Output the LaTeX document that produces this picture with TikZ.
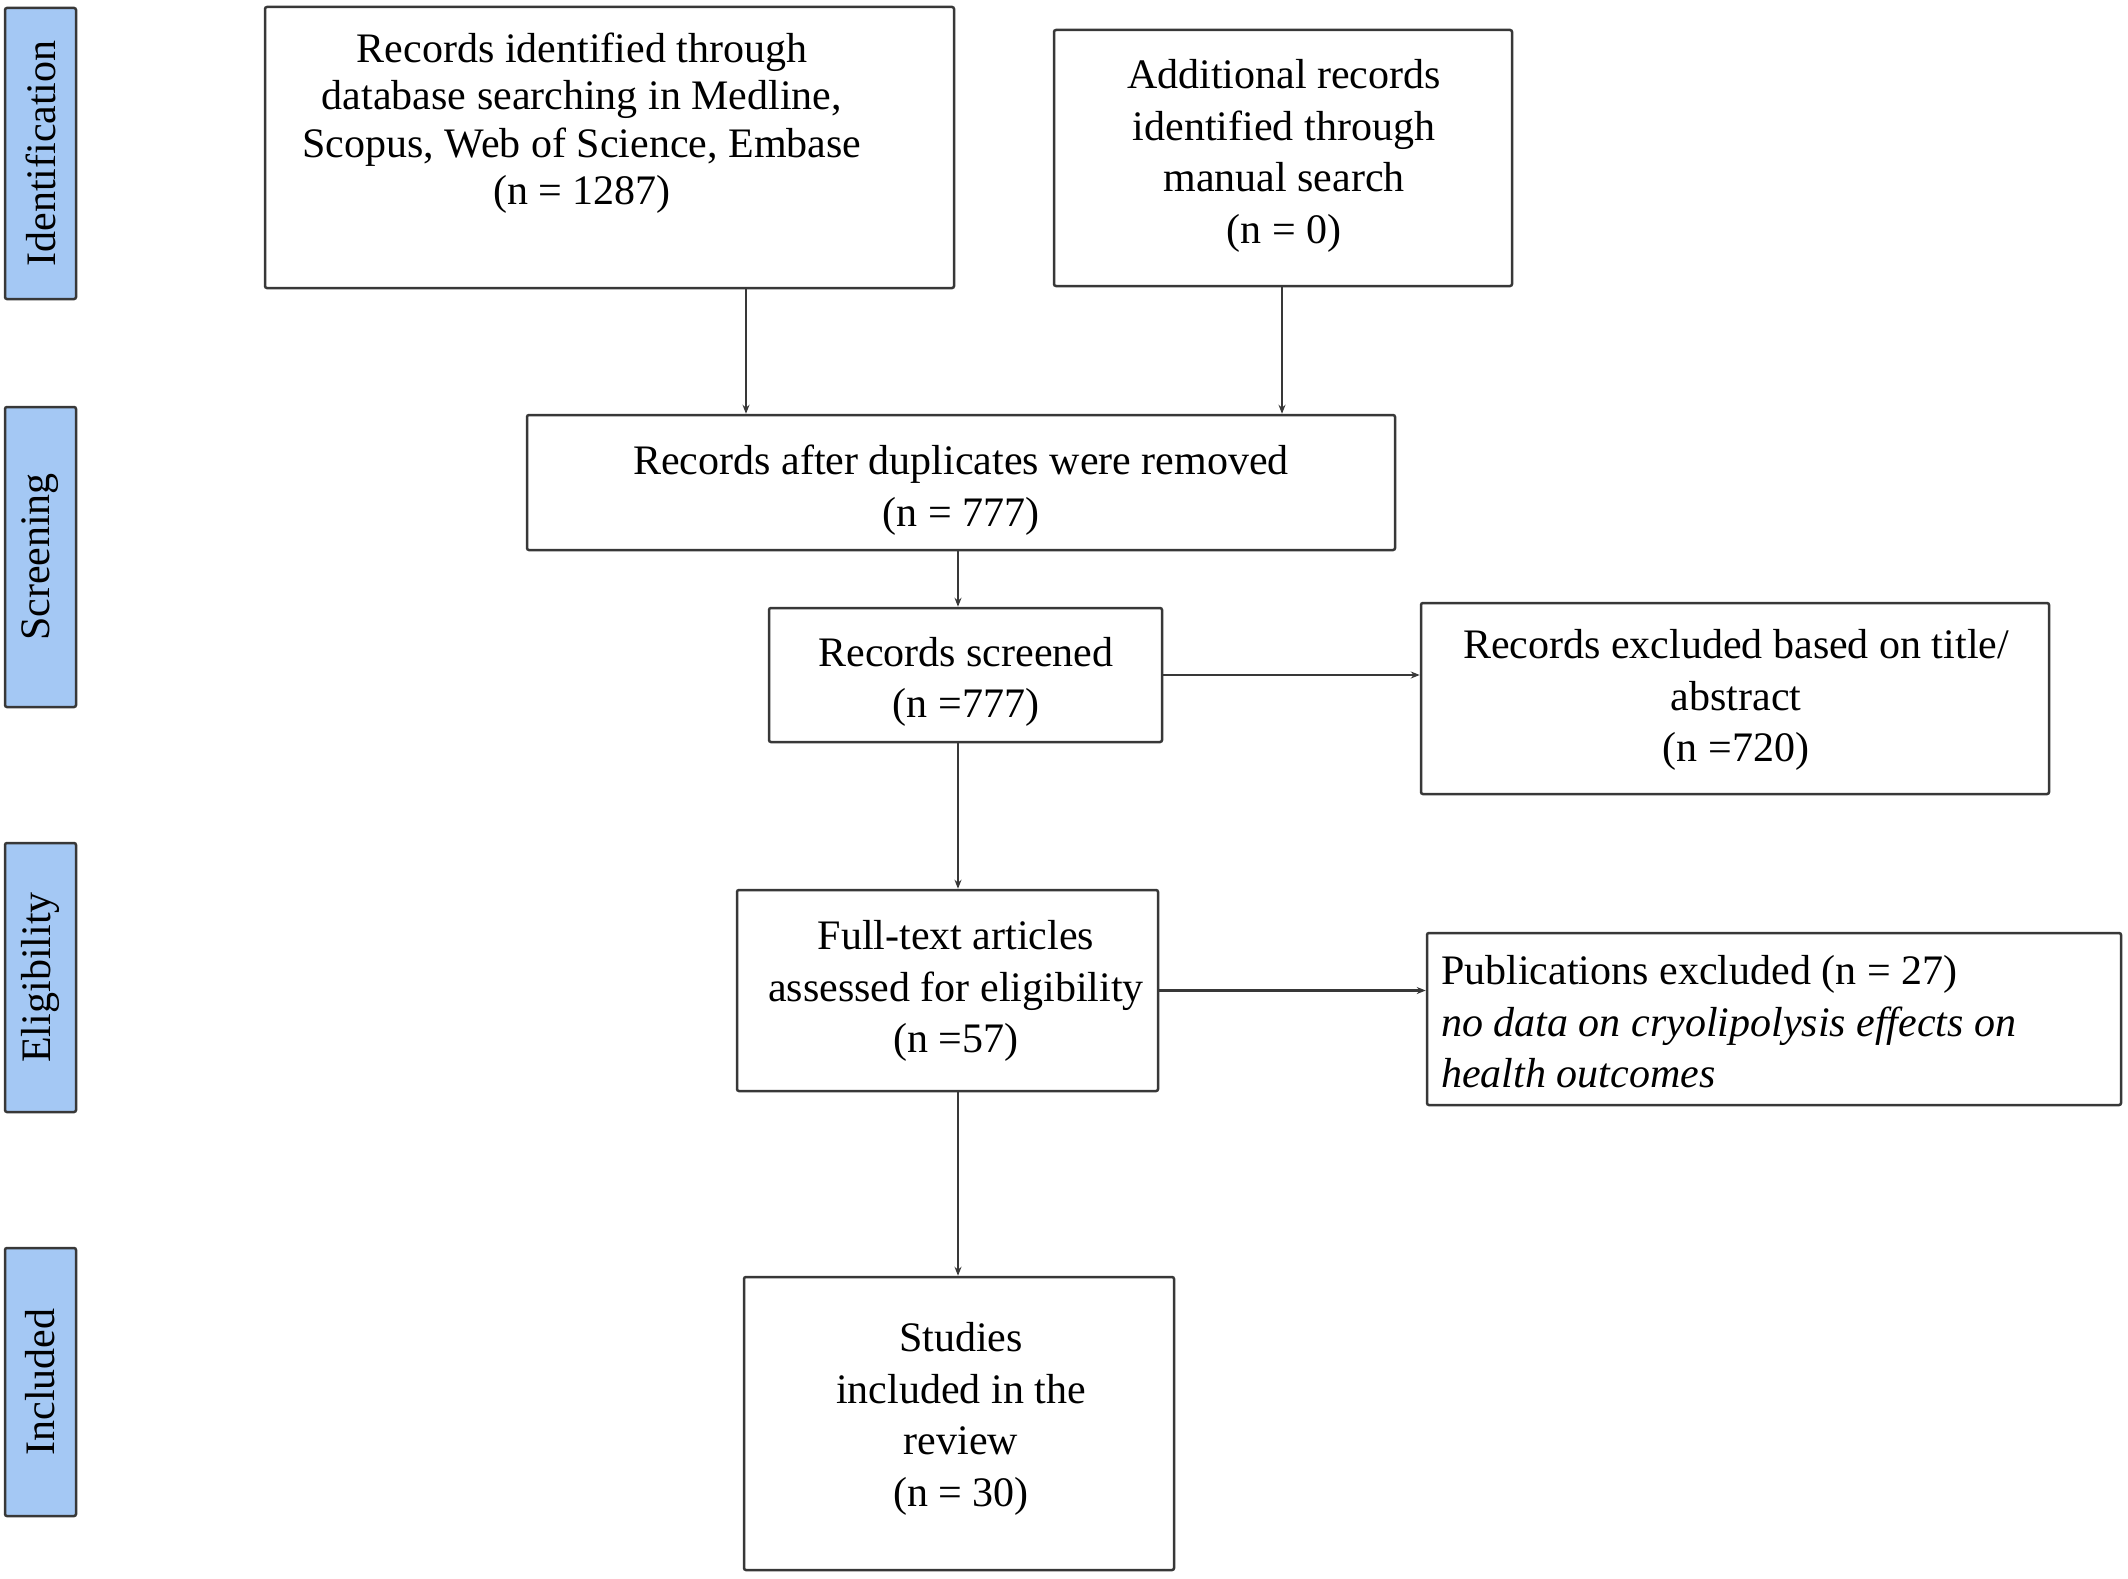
\documentclass[tikz,border=0pt]{standalone}
\usepackage{fontspec}
\setmainfont{Liberation Serif}
\usetikzlibrary{arrows.meta}
\definecolor{tabblue}{HTML}{A4C8F4}
\definecolor{edge}{HTML}{383838}
\begin{document}
\begin{tikzpicture}[x=1pt,y=-1pt,
  box/.style={draw=edge, line width=2.5pt, rounded corners=2pt, inner sep=0pt, fill=white},
  tab/.style={draw=edge, line width=2.5pt, rounded corners=2pt, fill=tabblue, inner sep=0pt, minimum width=71pt},
  tabtext/.style={rotate=90, font=\fontsize{42}{50}\selectfont, inner sep=0pt},
  txt/.style={align=center, inner sep=0pt, font=\fontsize{42}{51.5}\selectfont},
  arr/.style={draw=edge, line width=2.2pt, -{Stealth[length=9pt,width=7pt]}}]
\useasboundingbox (0,0) rectangle (2128,1579);
% phase tabs
\node[tab, minimum height=291pt] (p1) at (40.5,153.5) {};
\node[tabtext] (p1t) at (p1.center) {Identification};
\node[tab, minimum height=300pt] (p2) at (40.5,557) {};
\node[tabtext] (p2t) at (p2.center) {Screening};
\node[tab, minimum height=269pt] (p3) at (40.5,977.5) {};
\node[tabtext] (p3t) at (p3.center) {Eligibility};
\node[tab, minimum height=268pt] (p4) at (40.5,1382) {};
\node[tabtext] (p4t) at (p4.center) {Included};
% boxes
\node[box, minimum width=689pt, minimum height=281pt] (b1) at (609.5,147.5) {};
\node[txt, font=\fontsize{42}{47.5}\selectfont] (t1) at (582,123) {Records identified through\\database searching in Medline,\\Scopus, Web of Science, Embase\\(n = 1287)};
\node[box, minimum width=458pt, minimum height=256pt] (b2) at (1283,158) {};
\node[txt] (t2) at (1284,156) {Additional records\\identified through\\manual search\\(n = 0)};
\node[box, minimum width=868pt, minimum height=135pt] (b3) at (961,482.5) {};
\node[txt] (t3) at (961,490) {Records after duplicates were removed\\(n = 777)};
\node[box, minimum width=393pt, minimum height=134pt] (b4) at (965.5,675) {};
\node[txt] (t4) at (966,682) {Records screened\\(n =777)};
\node[box, minimum width=628pt, minimum height=191pt] (b5) at (1735,698.5) {};
\node[txt] (t5) at (1736,700) {Records excluded based on title/\\abstract\\(n =720)};
\node[box, minimum width=421pt, minimum height=201pt] (b6) at (947.5,990.5) {};
\node[txt] (t6) at (956,991) {Full-text articles\\assessed for eligibility\\(n =57)};
\node[box, minimum width=694pt, minimum height=172pt] (b7) at (1774,1019) {};
\node[txt, align=left, anchor=west] (t7) at (1441,1022) {Publications excluded (n = 27)\\\textit{no data on cryolipolysis effects on}\\\textit{health outcomes}};
\node[box, minimum width=430pt, minimum height=293pt] (b8) at (959,1423.5) {};
\node[txt] (t8) at (961,1419) {Studies\\included in the\\review\\(n = 30)};
% connectors
\coordinate (xa) at (746,0);
\coordinate (xb) at (1282,0);
\coordinate (xm) at (958,0);
\draw[arr] (xa |- b1.south) -- (xa |- b3.north);
\draw[arr] (xb |- b2.south) -- (xb |- b3.north);
\draw[arr] (xm |- b3.south) -- (xm |- b4.north);
\draw[arr] (b4.east) -- (b4.east -| b5.west);
\draw[arr] (xm |- b4.south) -- (xm |- b6.north);
\draw[arr] (b6.east) -- (b6.east -| b7.west);
\draw[arr] (xm |- b6.south) -- (xm |- b8.north);
\end{tikzpicture}
\end{document}
